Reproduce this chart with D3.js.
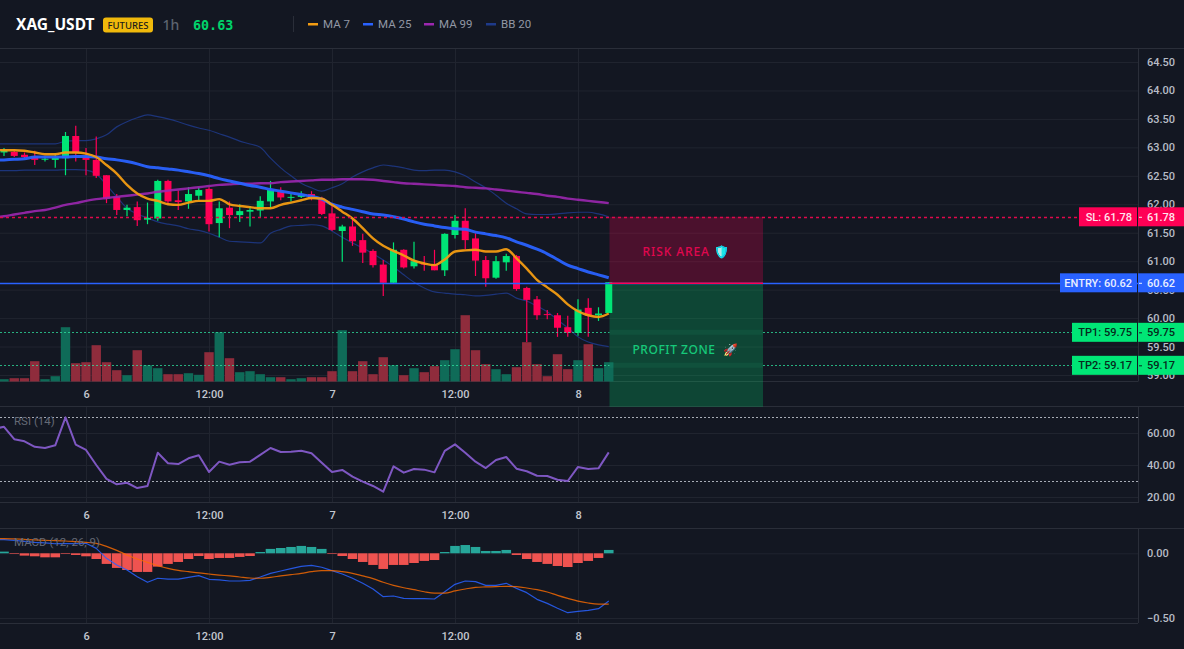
<!DOCTYPE html>
<html>
<head>
<meta charset="utf-8">
<title>XAG_USDT 1h</title>
<script src="https://cdnjs.cloudflare.com/ajax/libs/d3/7.8.5/d3.min.js"></script>
<style>
html,body{margin:0;padding:0;background:#131722;overflow:hidden}
svg{display:block}
text{font-family:Roboto,"Noto Sans",sans-serif}
</style>
</head>
<body>
<svg id="chart" width="1184" height="649"></svg>
<script>
// Hourly candles; the first index sits just off the left edge, index 0 is the "6" session open.
const firstIndex = -9;
const opens = [62.95,62.91,62.92,62.87,62.84,62.79,62.78,62.81,63.20,62.84,62.78,62.51,62.13,61.90,61.95,61.73,61.75,62.41,62.07,62.05,62.15,62.27,61.67,61.94,61.81,61.87,61.89,62.05,62.22,62.12,62.13,62.18,62.10,61.84,61.53,61.61,61.37,61.18,60.94,60.62,61.20,60.91,60.96,60.95,60.84,61.46,61.71,61.40,61.02,60.71,60.98,61.09,60.53,60.33,60.07,60.05,59.84,59.74,60.18,60.05,60.09];
const closes = [62.93,62.96,62.85,62.83,62.78,62.80,62.82,63.20,62.90,62.78,62.50,62.10,61.90,61.94,61.72,61.76,62.41,62.05,62.04,62.18,62.25,61.65,61.93,61.81,61.88,61.90,62.06,62.25,62.12,62.13,62.17,62.10,61.83,61.55,61.61,61.35,61.15,60.93,60.62,61.20,60.89,61.00,60.94,60.84,61.48,61.71,61.37,61.01,60.70,61.00,61.09,60.51,60.32,60.05,60.06,59.83,59.74,60.15,60.04,60.08,60.63];
const highs = [62.98,62.99,62.94,62.91,62.94,62.85,62.90,63.27,63.38,62.99,63.19,62.51,62.18,61.99,62.05,62.03,62.43,62.43,62.24,62.30,62.30,62.30,62.05,62.05,62.00,61.97,62.14,62.41,62.30,62.18,62.23,62.23,62.13,62.02,61.64,61.74,61.48,61.21,61.02,61.33,61.21,61.34,61.09,61.20,61.49,61.81,61.93,61.49,61.09,61.09,61.13,61.11,60.55,60.39,60.14,60.09,60.04,60.33,60.35,60.19,60.63];
const lows = [62.90,62.85,62.83,62.81,62.69,62.75,62.64,62.51,62.75,62.51,62.46,62.02,61.81,61.79,61.62,61.65,61.71,61.99,61.90,61.92,62.07,61.52,61.42,61.58,61.69,61.61,61.77,61.95,62.07,62.05,62.11,62.07,61.81,61.53,60.99,61.27,60.97,60.89,60.39,60.61,60.87,60.87,60.83,60.84,60.74,61.40,61.21,60.74,60.55,60.69,60.83,60.48,59.58,59.97,59.98,59.67,59.67,59.69,59.67,59.95,60.09];
const volumes = [2,2.3,3.3,3.3,20.3,2.3,5.3,54.3,18.3,19.3,36.3,19.3,11.3,6.3,31.3,16.3,13.3,7.3,7.3,8.3,6.7,29.3,49.3,23.3,9.3,10.3,7.3,4.3,4.3,2.3,3.3,4.3,4.3,10.3,51.3,10.3,20.3,7.3,24.3,16.3,6.3,13.3,9.3,15.3,21.3,32.3,66.3,31.3,17.3,12.3,7.3,14.3,39.3,17.3,5.3,27.3,12.3,21.3,37.3,13.3,19.3];

const ma7 = [62.96,62.95,62.95,62.94,62.91,62.88,62.88,62.91,62.91,62.89,62.83,62.69,62.54,62.34,62.19,62.10,62.06,62.00,61.99,62.03,62.06,62.06,62.09,62.00,61.97,61.95,61.93,61.93,61.99,62.03,62.07,62.11,62.10,61.99,61.87,61.75,61.58,61.40,61.27,61.18,61.10,61.01,60.96,60.93,61.03,61.17,61.19,61.20,61.17,61.17,61.21,61.05,60.87,60.67,60.54,60.41,60.24,60.12,60.05,60.02,60.08];
const ma25 = [62.77,62.78,62.79,62.80,62.83,62.83,62.83,62.83,62.84,62.84,62.83,62.80,62.78,62.75,62.71,62.66,62.64,62.62,62.60,62.57,62.54,62.50,62.45,62.41,62.37,62.33,62.30,62.26,62.23,62.20,62.17,62.14,62.09,62.00,61.95,61.91,61.87,61.83,61.81,61.78,61.74,61.69,61.65,61.62,61.59,61.57,61.56,61.51,61.48,61.45,61.41,61.34,61.28,61.21,61.13,61.03,60.93,60.87,60.81,60.76,60.71];
const ma99 = [61.77,61.79,61.82,61.85,61.88,61.90,61.94,61.99,62.02,62.06,62.09,62.11,62.13,62.15,62.17,62.19,62.22,62.24,62.26,62.28,62.30,62.32,62.34,62.35,62.36,62.36,62.37,62.37,62.39,62.40,62.41,62.42,62.43,62.43,62.44,62.44,62.44,62.43,62.41,62.39,62.37,62.36,62.35,62.34,62.33,62.32,62.30,62.29,62.28,62.26,62.24,62.22,62.20,62.18,62.15,62.13,62.10,62.08,62.06,62.04,62.02];
const bbUpper = [63.06,63.06,63.06,63.06,63.06,63.06,63.06,63.11,63.12,63.12,63.15,63.22,63.36,63.45,63.52,63.57,63.54,63.50,63.45,63.39,63.34,63.30,63.24,63.18,63.11,63.06,63.00,62.81,62.64,62.50,62.37,62.29,62.23,62.29,62.36,62.48,62.57,62.64,62.69,62.67,62.64,62.60,62.59,62.60,62.60,62.57,62.50,62.39,62.29,62.16,62.02,61.92,61.83,61.82,61.82,61.83,61.85,61.86,61.86,61.83,61.78];
const bbLower = [62.59,62.59,62.59,62.60,62.60,62.60,62.60,62.61,62.61,62.60,62.53,62.34,62.13,61.93,61.83,61.76,61.69,61.65,61.62,61.57,61.54,61.49,61.42,61.35,61.34,61.33,61.32,61.49,61.56,61.62,61.63,61.64,61.62,61.53,61.42,61.32,61.23,61.13,61.02,60.90,60.76,60.63,60.53,60.46,60.44,60.42,60.41,60.39,60.40,60.42,60.44,60.35,60.30,60.21,60.11,59.97,59.83,59.67,59.58,59.53,59.50];

const rsi = [62.5,63.9,56.1,54.8,51.4,50.6,52.3,69.8,52.7,49.4,40,31.3,27.9,28.9,25.6,26.9,47.7,41.1,40.6,44.2,46.1,35.6,42.1,40.2,41.7,42.1,46.3,50.6,48.1,48.3,48.9,47.3,41.4,35.6,36.9,32.7,29.6,26.9,23.3,39.2,35.2,37.5,37.1,35.4,48.8,52.9,47.7,42.1,38.1,43.1,45,37.7,36.1,33.3,33.1,30.8,30,38.8,37.5,37.9,47.9];

const macdLine = [.108,.105,.100,.092,.085,.080,.074,.074,.074,.077,.038,-.039,-.090,-.129,-.181,-.224,-.193,-.199,-.199,-.186,-.173,-.201,-.206,-.214,-.214,-.209,-.183,-.155,-.137,-.119,-.101,-.093,-.108,-.134,-.160,-.193,-.232,-.276,-.335,-.330,-.348,-.351,-.351,-.353,-.297,-.240,-.214,-.219,-.248,-.248,-.232,-.271,-.304,-.356,-.387,-.425,-.459,-.449,-.441,-.428,-.369];
const macdSignal = [.113,.113,.111,.108,.103,.100,.098,.095,.090,.085,.077,.054,.023,-.013,-.044,-.070,-.096,-.116,-.132,-.142,-.152,-.160,-.168,-.175,-.183,-.191,-.193,-.186,-.175,-.165,-.155,-.142,-.134,-.134,-.142,-.155,-.175,-.196,-.224,-.248,-.266,-.281,-.297,-.307,-.307,-.291,-.276,-.263,-.260,-.258,-.255,-.258,-.268,-.281,-.299,-.325,-.348,-.369,-.384,-.392,-.392];
const macdHist = [.005,.013,-.005,-.018,-.023,-.031,-.031,-.005,-.013,-.023,-.044,-.082,-.113,-.129,-.144,-.144,-.103,-.082,-.067,-.044,-.021,-.044,-.036,-.036,-.028,-.021,.010,.034,.041,.049,.057,.049,.034,-.005,-.021,-.044,-.067,-.090,-.121,-.090,-.090,-.075,-.059,-.052,.010,.057,.064,.049,.018,.018,.026,-.013,-.044,-.067,-.082,-.098,-.106,-.075,-.059,-.036,.026];

// Trade plan levels
const slPrice = 61.78, entryPrice = 60.62, tp1Price = 59.75, tp2Price = 59.17, zoneFloor = 58.44;

// Axis labels
const timeTickIndex = [0, 12, 24, 36, 48];
const timeTickLabel = ["6", "12:00", "7", "12:00", "8"];
const priceTicks = [59,59.5,60,60.5,61,61.5,62,62.5,63,63.5,64,64.5];
const rsiTicks = [20,40,60];
const macdTicks = [0,-0.5];

const legendNames = ["MA 7","MA 25","MA 99","BB 20"];
const legendColors = ["#f39c12","#2962ff","#9c27b0","#1e3a8a"];
const legendDashX = [308,363,424,486];

const GREEN = "#00e676", RED = "#ff0055", BLUE = "#2962ff";
const GRID = "#20242f", BORDER = "#2a2e39", AXIS_TEXT = "#b7bcc6";
const AXIS_X = 1138;

const svg = d3.select("#chart");
svg.append("rect").attr("width",1184).attr("height",649).attr("fill","#131722");

const indices = d3.range(firstIndex, firstIndex + closes.length);
const x = d3.scaleLinear().domain([0,51]).range([86,608.75]);
const y = d3.scaleLinear().domain([59,64.5]).range([375,62]);
const yVol = d3.scaleLinear().domain([0,70]).range([381.5,311.5]);
const yRsi = d3.scaleLinear().domain([20,60]).range([497,433]);
const yMacd = d3.scaleLinear().domain([-0.5,0]).range([618,553.3]);

// Panes
const panes = [
  {top:49, bottom:381.5, scale:y, ticks:priceTicks, fmt:d3.format(".2f"), labelY:395},
  {top:407, bottom:503, scale:yRsi, ticks:rsiTicks, fmt:d3.format(".2f"), labelY:516},
  {top:528, bottom:623, scale:yMacd, ticks:macdTicks, fmt:d3.format(".2f"), labelY:637}
];

panes.forEach(p => {
  const g = svg.append("g");
  const hGrid = g.append("g").attr("transform",`translate(${AXIS_X},0)`)
    .call(d3.axisLeft(p.scale).tickValues(p.ticks).tickSize(AXIS_X).tickFormat(""));
  hGrid.select(".domain").remove();
  hGrid.selectAll("line").attr("stroke",GRID);
  const vGrid = g.append("g").attr("transform",`translate(0,${p.bottom})`)
    .call(d3.axisTop(x).tickValues(timeTickIndex).tickSize(p.bottom-p.top).tickFormat(""));
  vGrid.select(".domain").remove();
  vGrid.selectAll("line").attr("stroke",GRID);
});

[48.5,381.5,406.5,502.5,528.5,623.5].forEach(v => {
  const right = (v===381.5||v===502.5||v===623.5) ? AXIS_X : 1184;
  svg.append("line").attr("x1",0).attr("x2",right).attr("y1",v).attr("y2",v).attr("stroke",BORDER);
});
panes.forEach(p => {
  svg.append("line").attr("x1",AXIS_X+.5).attr("x2",AXIS_X+.5).attr("y1",p.top).attr("y2",p.bottom).attr("stroke",BORDER);
});

// Risk and reward zones lie under the price marks
const zoneX0 = 609.5, zoneX1 = 763;
svg.append("rect").attr("x",zoneX0).attr("width",zoneX1-zoneX0)
  .attr("y",y(slPrice)).attr("height",y(entryPrice)-y(slPrice))
  .attr("fill","#ff0055").attr("fill-opacity",.24);
svg.append("rect").attr("x",zoneX0).attr("width",zoneX1-zoneX0)
  .attr("y",y(entryPrice)).attr("height",y(zoneFloor)-y(entryPrice))
  .attr("fill","#00e676").attr("fill-opacity",.23);

// Volume bars
svg.append("g").selectAll("rect").data(indices).join("rect")
  .attr("x",i=>x(i)-4.7).attr("width",9.4)
  .attr("y",(i,k)=>yVol(volumes[k])).attr("height",(i,k)=>yVol(0)-yVol(volumes[k]))
  .attr("fill",(i,k)=>closes[k]>=opens[k]?"#0f6b58":"#8f2c3c");

const linear = (series, scale) => d3.line().x((d,k)=>x(indices[k])).y(d=>scale(d)).curve(d3.curveLinear)(series);
const smooth = (series, scale) => d3.line().x((d,k)=>x(indices[k])).y(d=>scale(d)).curve(d3.curveMonotoneX)(series);
const drawPath = (d,color,w,op=1) => svg.append("path").attr("d",d).attr("fill","none")
  .attr("stroke",color).attr("stroke-width",w).attr("stroke-opacity",op).attr("stroke-linejoin","round");

// Bollinger bands sit behind the candles
drawPath(smooth(bbUpper,y),"#1e3a8a",1.2,.85);
drawPath(smooth(bbLower,y),"#1e3a8a",1.2,.85);

// Candles
const candle = svg.append("g").selectAll("g").data(indices).join("g")
  .attr("stroke",(i,k)=>closes[k]>=opens[k]?GREEN:RED)
  .attr("fill",(i,k)=>closes[k]>=opens[k]?GREEN:RED);
candle.append("line")
  .attr("x1",i=>x(i)).attr("x2",i=>x(i))
  .attr("y1",(i,k)=>y(highs[k])).attr("y2",(i,k)=>y(lows[k]))
  .attr("stroke-width",1.2);
candle.append("rect")
  .attr("x",i=>x(i)-3.5).attr("width",7)
  .attr("y",(i,k)=>y(Math.max(opens[k],closes[k])))
  .attr("height",(i,k)=>Math.max(1,Math.abs(y(opens[k])-y(closes[k]))))
  .attr("stroke","none");

// Moving averages
drawPath(smooth(ma99,y),"#9c27b0",2.4,.9);
drawPath(smooth(ma25,y),"#2962ff",3,.95);
drawPath(smooth(ma7,y),"#f39c12",2.4,.95);

// Level lines; the take-profit lines stop at the zone edges and leave a faint band inside
const levels = [
  {price:slPrice, color:"#e0084c", dash:"3,3", width:1.4, op:1, spans:[[0,AXIS_X]]},
  {price:entryPrice, color:"#2962ff", dash:null, width:1.6, op:1, spans:[[0,AXIS_X]]},
  {price:tp1Price, color:"#2fe6a0", dash:"2,2", width:1, op:.75, spans:[[0,zoneX0],[zoneX1,AXIS_X]]},
  {price:tp2Price, color:"#2fe6a0", dash:"2,2", width:1, op:.75, spans:[[0,zoneX0],[zoneX1,AXIS_X]]}
];
levels.forEach(l => {
  const ly = Math.round(y(l.price))+.5;
  l.spans.forEach(([a,b]) => {
    svg.append("line").attr("x1",a).attr("x2",b).attr("y1",ly).attr("y2",ly)
      .attr("stroke",l.color).attr("stroke-opacity",l.op).attr("stroke-dasharray",l.dash)
      .attr("stroke-width",l.width);
  });
});
[tp1Price,tp2Price].forEach(p => {
  svg.append("line").attr("x1",zoneX0).attr("x2",zoneX1).attr("y1",y(p)).attr("y2",y(p))
    .attr("stroke","#2fe6a0").attr("stroke-opacity",.07).attr("stroke-width",5);
});
svg.append("line").attr("x1",zoneX0).attr("x2",zoneX1)
  .attr("y1",y(entryPrice)+.5).attr("y2",y(entryPrice)+.5).attr("stroke",RED).attr("stroke-width",1.6);

// Zone captions
svg.append("text").attr("x",642.5).attr("y",255.5).attr("fill","#e0074f")
  .attr("font-size",12).attr("font-weight",500).attr("letter-spacing",.9)
  .style("font-family",'"Noto Sans",sans-serif').text("RISK AREA");
svg.append("text").attr("x",714).attr("y",256).attr("font-size",12)
  .style("filter","sepia(1) hue-rotate(170deg) saturate(6) brightness(.9)")
  .text("🛡️");
svg.append("text").attr("x",632.5).attr("y",353.5).attr("fill","#16c97a")
  .attr("font-size",12).attr("font-weight",500).attr("letter-spacing",.55)
  .style("font-family",'"Noto Sans",sans-serif').text("PROFIT ZONE");
svg.append("text").attr("x",723).attr("y",354).attr("font-size",12).text("🚀");

// RSI pane
[70,30].forEach(v => {
  svg.append("line").attr("x1",0).attr("x2",AXIS_X)
    .attr("y1",Math.round(yRsi(v))+.5).attr("y2",Math.round(yRsi(v))+.5)
    .attr("stroke","#c3c7d0").attr("stroke-dasharray","2,2").attr("stroke-opacity",.85);
});
drawPath(linear(rsi,yRsi),"#7e57c2",2);
svg.append("text").attr("x",14).attr("y",425).attr("fill","#646975").attr("font-size",11.5).text("RSI (14)");

// MACD pane
svg.append("g").selectAll("rect").data(indices).join("rect")
  .attr("x",i=>x(i)-4.8).attr("width",9.6)
  .attr("y",(i,k)=>yMacd(Math.max(0,macdHist[k])))
  .attr("height",(i,k)=>Math.abs(yMacd(macdHist[k])-yMacd(0)))
  .attr("fill",(i,k)=>macdHist[k]>=0?"#26a69a":"#ef5350");
drawPath(linear(macdLine,yMacd),"#2962ff",1.2,.85);
drawPath(smooth(macdSignal,yMacd),"#ff6d00",1.2,.8);
svg.append("text").attr("x",14).attr("y",546).attr("fill","#646975").attr("font-size",11.5).text("MACD (12, 26, 9)");

// Right price axes and bottom time axes
panes.forEach(p => {
  const ax = svg.append("g").attr("transform",`translate(${AXIS_X},0)`)
    .call(d3.axisRight(p.scale).tickValues(p.ticks).tickSize(0).tickPadding(9).tickFormat(p.fmt));
  ax.select(".domain").remove();
  ax.selectAll("text").attr("fill",AXIS_TEXT).attr("font-size",11)
    .attr("font-family","Roboto,sans-serif").attr("font-weight",500);
  const tx = svg.append("g").attr("transform",`translate(0,${p.labelY-5})`)
    .call(d3.axisBottom(x).tickValues(timeTickIndex).tickSize(0).tickPadding(0)
      .tickFormat((d,k)=>timeTickLabel[k]));
  tx.select(".domain").remove();
  tx.selectAll("text").attr("fill","#c3c7d0").attr("font-size",11).attr("font-weight",500)
    .attr("font-family","Roboto,sans-serif");
});

// Level tags on the price axis
const tags = [
  {name:"SL", price:slPrice, bg:RED, fg:"#ffe5ee", left:1079},
  {name:"ENTRY", price:entryPrice, bg:BLUE, fg:"#e8eeff", left:1060},
  {name:"TP1", price:tp1Price, bg:GREEN, fg:"#06291c", left:1072},
  {name:"TP2", price:tp2Price, bg:GREEN, fg:"#06291c", left:1072}
];
tags.forEach(t => {
  const cy = y(t.price);
  svg.append("rect").attr("x",t.left).attr("y",cy-9.5).attr("width",AXIS_X-1-t.left).attr("height",19).attr("fill",t.bg);
  svg.append("rect").attr("x",AXIS_X).attr("y",cy-9.5).attr("width",1184-AXIS_X).attr("height",19).attr("fill",t.bg);
  svg.append("text").attr("x",AXIS_X-6).attr("y",cy+4).attr("text-anchor","end").attr("fill",t.fg)
    .attr("font-size",11).attr("font-weight",500).text(`${t.name}: ${t.price.toFixed(2)}`);
  svg.append("line").attr("x1",AXIS_X+1).attr("x2",AXIS_X+4).attr("y1",cy+.5).attr("y2",cy+.5).attr("stroke",t.fg);
  svg.append("text").attr("x",AXIS_X+9).attr("y",cy+4).attr("fill",t.fg)
    .attr("font-size",11).attr("font-weight",500).text(t.price.toFixed(2));
});

// Header bar
svg.append("text").attr("x",16).attr("y",30).attr("fill","#ffffff").attr("font-size",15.5).attr("font-weight",700)
  .style("font-family",'"Noto Sans",sans-serif').text("XAG_USDT");
svg.append("rect").attr("x",103).attr("y",17.5).attr("width",50).attr("height",15).attr("rx",3).attr("fill","#f0b90b");
svg.append("text").attr("x",128).attr("y",29).attr("text-anchor","middle").attr("fill","#1a1a1a").attr("font-size",9.5).attr("font-weight",500)
  .style("font-family",'"Noto Sans",sans-serif').text("FUTURES");
svg.append("text").attr("x",162.5).attr("y",30).attr("fill","#5d6470").attr("font-size",14).attr("font-weight",500)
  .style("font-family",'"Noto Sans",sans-serif').text("1h");
svg.append("text").attr("x",193).attr("y",29.5).attr("fill","#00d26a").attr("font-size",13.4).attr("font-weight",700)
  .style("font-family",'"DejaVu Sans Mono",monospace').text(closes[closes.length-1].toFixed(2));
svg.append("line").attr("x1",293.5).attr("x2",293.5).attr("y1",16).attr("y2",32).attr("stroke",BORDER);
legendNames.forEach((name,k) => {
  svg.append("rect").attr("x",legendDashX[k]).attr("y",23).attr("width",10).attr("height",2.5).attr("fill",legendColors[k]);
  svg.append("text").attr("x",legendDashX[k]+15).attr("y",28).attr("fill","#9298a5").attr("font-size",11.5).text(name);
});
</script>
</body>
</html>
